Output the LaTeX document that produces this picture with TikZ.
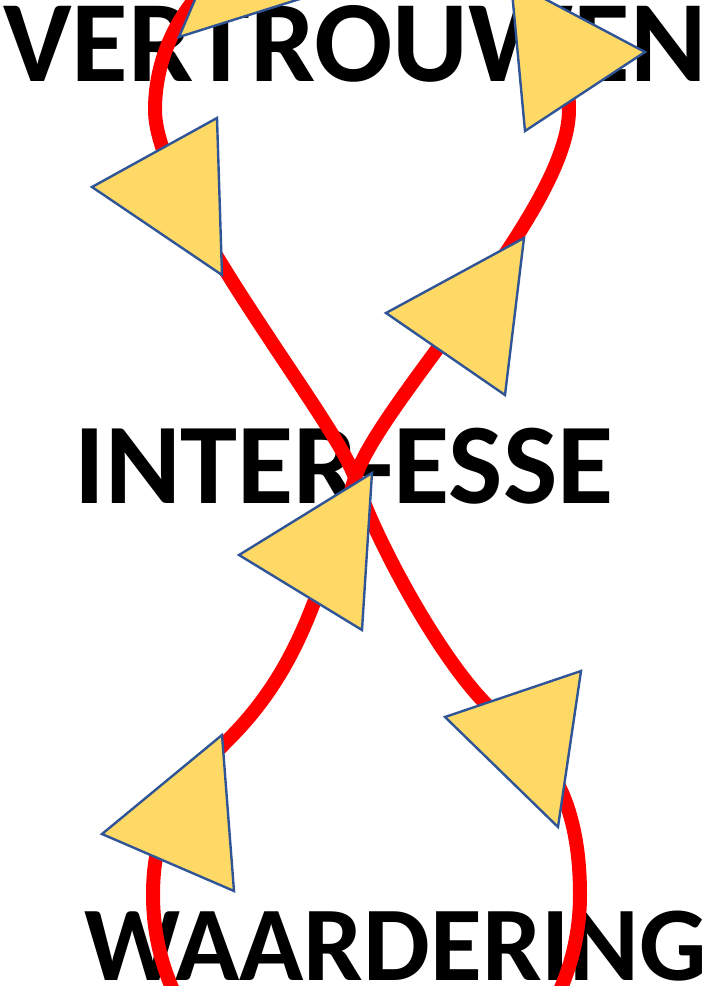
\documentclass[tikz,border=0pt]{standalone}
\usepackage{fontspec}
\setmainfont{Carlito}
\definecolor{triyellow}{HTML}{FFD966}
\definecolor{triblue}{HTML}{2F5597}
\begin{document}
\begin{tikzpicture}[x=1pt,y=-1pt,
  redloop/.style={draw=red, line width=14pt, line join=round},
  tri/.style={fill=triyellow, draw=triblue, line width=2.4pt, line join=miter},
  word/.style={font=\fontsize{#1}{#1}\selectfont\bfseries, inner sep=0pt, text=black}]
\useasboundingbox (0,0) rectangle (707,986);
\clip (0,0) rectangle (707,986);
\node[word=116, anchor=base] (vert) at (355,81) {VERTROUWEN};
\node[word=115, anchor=base] (inter) at (344,503) {INTER-ESSE};
\node[word=106, anchor=base west] (waard) at (84,980) {WAARDERING};
% figure-eight loop
\coordinate (C) at (355,478);
\coordinate (TL) at (155,110);
\coordinate (TT) at (362,-78);
\coordinate (TR) at (569,110);
\coordinate (M) at (230,738);
\coordinate (BL) at (153,895);
\coordinate (BB) at (366.5,1120);
\coordinate (BR) at (580,895);
\coordinate (N) at (485,703);
\draw[redloop] (C)
  .. controls (337,421) and (155,200) .. (TL)
  .. controls (155,6.2) and (247.7,-78) .. (TT)
  .. controls (476.3,-78) and (569,6.2) .. (TR)
  .. controls (569,210) and (379,402) .. (C)
  .. controls (319,592) and (300,667) .. (M)
  .. controls (188,780.6) and (153,815) .. (BL)
  .. controls (153,1019.3) and (248.6,1120) .. (BB)
  .. controls (484.4,1120) and (580,1019.3) .. (BR)
  .. controls (580,765) and (520,739) .. (N)
  .. controls (436,652.6) and (373,535) .. (C) -- cycle;
% triangles
\coordinate (t1a) at (179,37); \coordinate (t1b) at (238,-101); \coordinate (t1c) at (322,-8);
\coordinate (t2a) at (525,131); \coordinate (t2b) at (645,52); \coordinate (t2c) at (511,-19);
\coordinate (t3a) at (92,187); \coordinate (t3b) at (217,118); \coordinate (t3c) at (222,275);
\coordinate (t4a) at (386,313); \coordinate (t4b) at (524,238); \coordinate (t4c) at (505,395);
\coordinate (t5a) at (239,555); \coordinate (t5b) at (372,473); \coordinate (t5c) at (362,630);
\coordinate (t6a) at (102,834); \coordinate (t6b) at (222,735); \coordinate (t6c) at (234,891);
\coordinate (t7a) at (445,717); \coordinate (t7b) at (581,671); \coordinate (t7c) at (558,827);
\foreach \t in {t1,t2,t3,t4,t5,t6,t7}{
  \draw[tri] (\t a) -- (\t b) -- (\t c) -- cycle;
}
\end{tikzpicture}
\end{document}
